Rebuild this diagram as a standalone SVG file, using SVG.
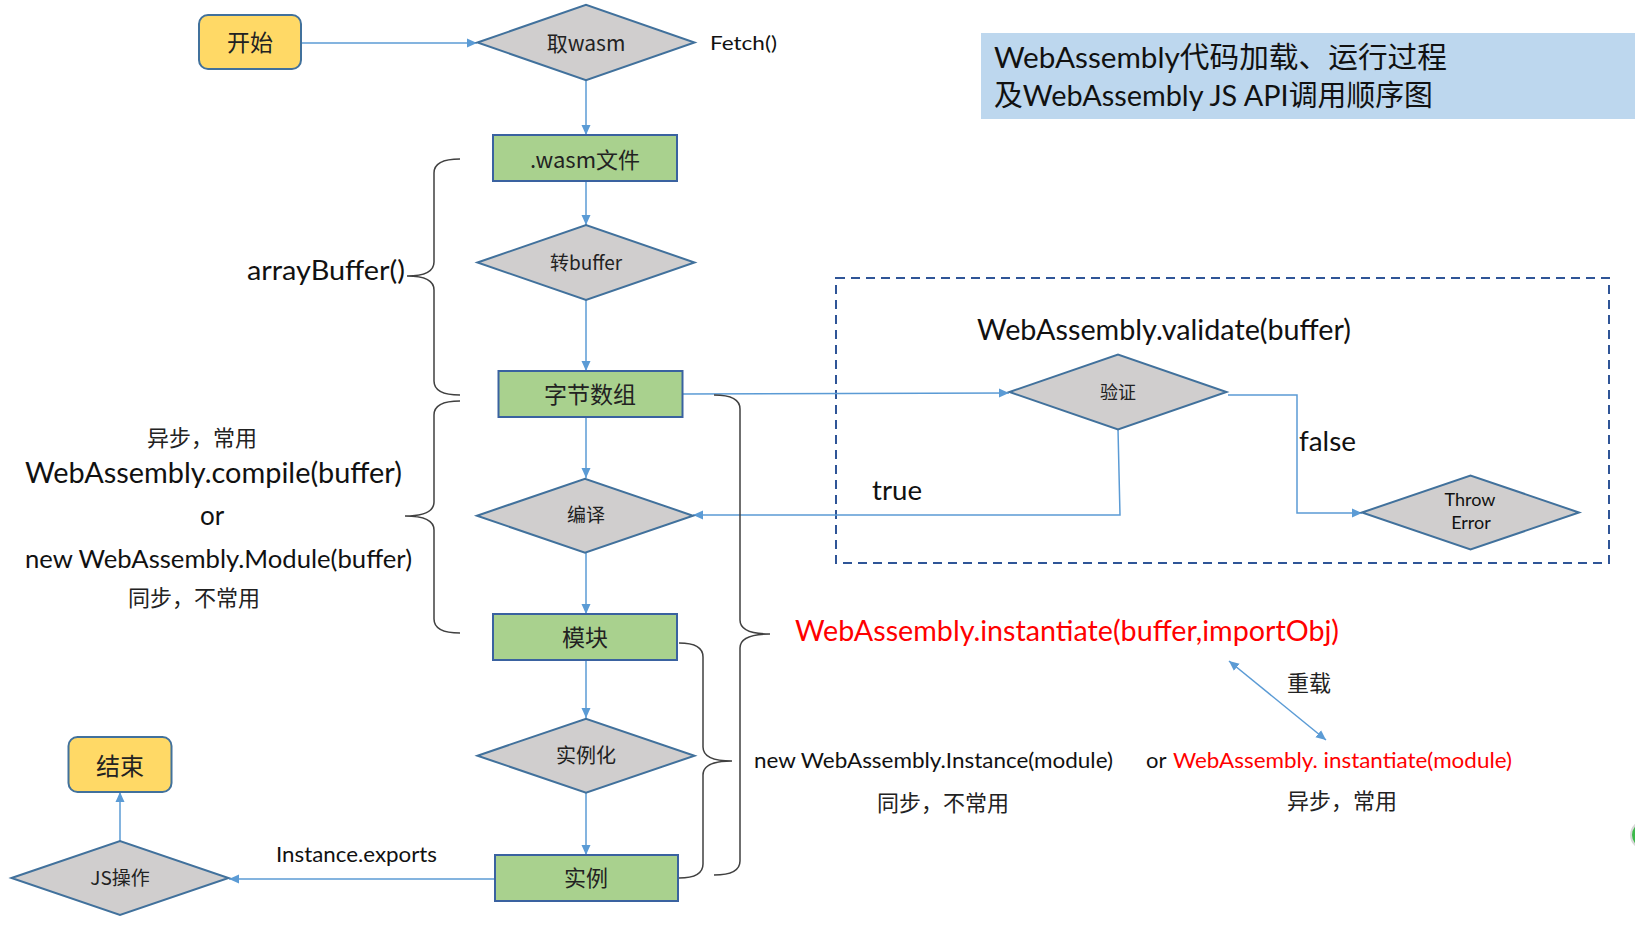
<svg xmlns="http://www.w3.org/2000/svg" width="1635" height="926" viewBox="0 0 1635 926">
<defs>
<style>
.t{font-family:Lato,"Noto Sans CJK SC",sans-serif;fill:#111}
.c{font-family:"Noto Sans CJK SC",Lato,sans-serif;fill:#222}
.red{fill:#FF0000}
.box{fill:#A9D18E;stroke:#3A62A0;stroke-width:2}
.term{fill:#FFD966;stroke:#41719C;stroke-width:2}
.dia{fill:#D0CECE;stroke:#41719C;stroke-width:2}
.con{fill:none;stroke:#5B9BD5;stroke-width:1.5}
.brace{fill:none;stroke:#404040;stroke-width:1.5}
</style>
<marker id="ah" viewBox="0 0 10 10" refX="10" refY="5" markerWidth="10" markerHeight="10" markerUnits="userSpaceOnUse" orient="auto">
<path d="M0 0.5 L10 5 L0 9.5 Z" fill="#5B9BD5"/>
</marker>
<marker id="as" viewBox="0 0 10 10" refX="0" refY="5" markerWidth="10" markerHeight="10" markerUnits="userSpaceOnUse" orient="auto">
<path d="M10 0.5 L0 5 L10 9.5 Z" fill="#5B9BD5"/>
</marker>
</defs>
<rect width="1635" height="926" fill="#FFFFFF"/>

<g id="title">
<rect x="981" y="33" width="654" height="86" fill="#BDD7EE"/>
<text class="t" x="994" y="68" font-size="29" textLength="453" lengthAdjust="spacingAndGlyphs">WebAssembly代码加载、运行过程</text>
<text class="t" x="994" y="106" font-size="29" textLength="439" lengthAdjust="spacingAndGlyphs">及WebAssembly JS API调用顺序图</text>
</g>

<g id="validate-group">
<rect x="836" y="278" width="773" height="285" fill="none" stroke="#2F5597" stroke-width="2" stroke-dasharray="9,6"/>
</g>

<g id="connectors">
<path class="con" d="M301 43 L477 43" marker-end="url(#ah)"/>
<path class="con" d="M586 80 L586 135" marker-end="url(#ah)"/>
<path class="con" d="M586 181 L586 225" marker-end="url(#ah)"/>
<path class="con" d="M586 300 L586 371" marker-end="url(#ah)"/>
<path class="con" d="M586 417 L586 478" marker-end="url(#ah)"/>
<path class="con" d="M586 553 L586 614" marker-end="url(#ah)"/>
<path class="con" d="M586 660 L586 718" marker-end="url(#ah)"/>
<path class="con" d="M586 793 L586 855" marker-end="url(#ah)"/>
<path class="con" d="M495 879 L229 879" marker-end="url(#ah)"/>
<path class="con" d="M120 841 L120 792" marker-end="url(#ah)"/>
<path class="con" d="M682 394 L1009 393" marker-end="url(#ah)"/>
<path class="con" d="M1118 429 L1120 515 L693 515" marker-end="url(#ah)"/>
<path class="con" d="M1228 395 L1297 395 L1297 513 L1362 513" marker-end="url(#ah)"/>
<path class="con" d="M1229 661 L1326 740" marker-start="url(#as)" marker-end="url(#ah)"/>
</g>

<g id="braces">
<path class="brace" d="M460 159 Q434 159 434 173 L434 262 Q434 276 407 276 Q434 276 434 290 L434 381 Q434 395 460 395"/>
<path class="brace" d="M460 401 Q434 401 434 415 L434 502 Q434 516 405 516 Q434 516 434 530 L434 619 Q434 633 460 633"/>
<path class="brace" d="M679 643 Q703 643 703 657 L703 747 Q703 761 732 761 Q703 761 703 775 L703 864 Q703 878 679 878"/>
<path class="brace" d="M714 395 Q740 395 740 409 L740 620 Q740 634 770 634 Q740 634 740 648 L740 861 Q740 875 714 875"/>
</g>

<g id="start">
<rect class="term" x="199" y="15" width="102" height="54" rx="9"/>
<text class="c" x="250" y="51" font-size="23" text-anchor="middle">开始</text>
</g>

<g id="fetch-wasm">
<polygon class="dia" points="477.5,42.5 586,4.8 694.5,42.5 586,80.2"/>
<text class="c" x="586" y="51" font-size="21" text-anchor="middle">取wasm</text>
</g>
<text class="t" x="710" y="50" font-size="20" textLength="67" lengthAdjust="spacingAndGlyphs">Fetch()</text>

<g id="wasm-file">
<rect class="box" x="493" y="135" width="184" height="46"/>
<text class="c" x="585" y="168" font-size="22" text-anchor="middle">.wasm文件</text>
</g>

<g id="to-buffer">
<polygon class="dia" points="477.5,262.5 586,225 694.5,262.5 586,300"/>
<text class="c" x="586" y="270" font-size="19" text-anchor="middle">转buffer</text>
</g>

<g id="byte-array">
<rect class="box" x="498.5" y="371" width="184" height="46"/>
<text class="c" x="590" y="403" font-size="23" text-anchor="middle">字节数组</text>
</g>

<g id="compile">
<polygon class="dia" points="477,515.7 585,478.7 693,515.7 585,552.7"/>
<text class="c" x="586" y="522" font-size="19" text-anchor="middle">编译</text>
</g>

<g id="module">
<rect class="box" x="493" y="614" width="184" height="46"/>
<text class="c" x="585" y="646" font-size="23" text-anchor="middle">模块</text>
</g>

<g id="instantiate">
<polygon class="dia" points="477.5,755.7 586,718.7 694.5,755.7 586,792.7"/>
<text class="c" x="586" y="763" font-size="20" text-anchor="middle">实例化</text>
</g>

<g id="instance">
<rect class="box" x="495" y="855" width="183" height="46"/>
<text class="c" x="586" y="886" font-size="22" text-anchor="middle">实例</text>
</g>

<g id="js-op">
<polygon class="dia" points="11.5,878 120,841 228.5,878 120,915"/>
<text class="c" x="120" y="885" font-size="19" text-anchor="middle">JS操作</text>
</g>

<g id="end">
<rect class="term" x="68.5" y="737" width="103" height="55" rx="9"/>
<text class="c" x="120" y="775" font-size="24" text-anchor="middle">结束</text>
</g>

<g id="validate">
<polygon class="dia" points="1009.5,392 1118,354.5 1226.5,392 1118,429.5"/>
<text class="c" x="1118" y="399" font-size="18" text-anchor="middle">验证</text>
</g>

<g id="throw-error">
<polygon class="dia" points="1362,512.5 1470.5,475.5 1579,512.5 1470.5,549.5"/>
<text class="t" x="1470" y="506" font-size="18" text-anchor="middle">Throw</text>
<text class="t" x="1471" y="529" font-size="18" text-anchor="middle">Error</text>
</g>

<g id="labels">
<text class="t" x="247" y="280" font-size="27" textLength="158" lengthAdjust="spacingAndGlyphs">arrayBuffer()</text>
<text class="c" x="202" y="446" font-size="22" text-anchor="middle">异步，常用</text>
<text class="t" x="25" y="483" font-size="28" textLength="377" lengthAdjust="spacingAndGlyphs">WebAssembly.compile(buffer)</text>
<text class="t" x="212" y="525" font-size="26" text-anchor="middle">or</text>
<text class="t" x="25" y="568" font-size="25" textLength="387" lengthAdjust="spacingAndGlyphs">new WebAssembly.Module(buffer)</text>
<text class="c" x="194" y="606" font-size="22" text-anchor="middle">同步，不常用</text>
<text class="t" x="276" y="862" font-size="22" textLength="161" lengthAdjust="spacingAndGlyphs">Instance.exports</text>
<text class="t" x="977" y="340" font-size="28" textLength="374" lengthAdjust="spacingAndGlyphs">WebAssembly.validate(buffer)</text>
<text class="t" x="1299" y="451" font-size="27" textLength="57" lengthAdjust="spacingAndGlyphs">false</text>
<text class="t" x="872" y="500" font-size="27" textLength="50" lengthAdjust="spacingAndGlyphs">true</text>
<text class="t red" x="795" y="641" font-size="28" textLength="544" lengthAdjust="spacingAndGlyphs">WebAssembly.instantiate(buffer,importObj)</text>
<text class="c" x="1287" y="691" font-size="22">重载</text>
<text class="t" x="754" y="768" font-size="22" textLength="359" lengthAdjust="spacingAndGlyphs">new WebAssembly.Instance(module)</text>
<text class="t" x="1146" y="768" font-size="22">or</text>
<text class="t red" x="1173" y="768" font-size="22" textLength="339" lengthAdjust="spacingAndGlyphs">WebAssembly. instantiate(module)</text>
<text class="c" x="877" y="811" font-size="22">同步，不常用</text>
<text class="c" x="1287" y="809" font-size="22">异步，常用</text>
</g>

<circle cx="1645" cy="835" r="14" fill="#3CB94A" stroke="#D8D8D8" stroke-width="2"/>
</svg>
